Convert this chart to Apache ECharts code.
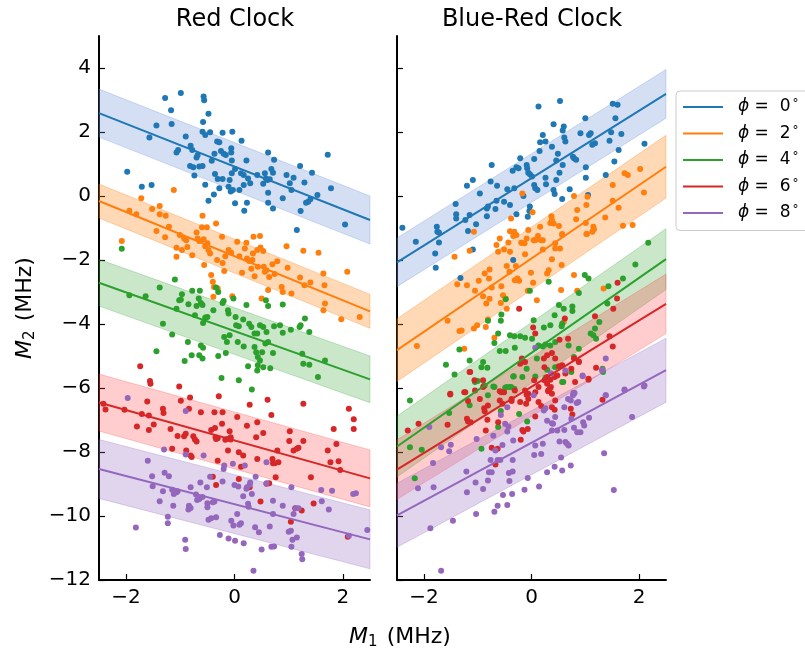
<!DOCTYPE html>
<html>
<head>
<meta charset="utf-8">
<script src="https://cdn.jsdelivr.net/npm/echarts@6/dist/echarts.min.js"></script>
<style>
  html, body { margin: 0; padding: 0; background: #fff; }
  #chart { width: 805px; height: 653px; }
</style>
</head>
<body>
<div id="chart"></div>
<script>
// phase offsets and colours
var phiLabels = ['0', '2', '4', '6', '8'];
var phiColors = ['#1f77b4', '#ff7f0e', '#2ca02c', '#d62728', '#9467bd'];
var bandColors = ['rgba(100,140,215,0.28)', 'rgba(255,127,14,0.30)', 'rgba(44,160,44,0.25)',
                  'rgba(255,60,60,0.26)', 'rgba(148,103,189,0.28)'];
var xTicks = [-2, 0, 2];
var yTicks = [-12, -10, -8, -6, -4, -2, 0, 2, 4];

// Red Clock panel
var red0 = [[-1.98,0.76],[-1.71,0.29],[-1.53,0.34],[-1.57,1.83],[-1.44,2.20],[-1.28,3.06],[-1.17,2.68],[-1.16,2.25],[-0.99,3.22],[-0.90,1.86],[-1.07,1.36],[-1.04,1.44],[-0.81,1.57],[-0.78,1.44],[-0.82,0.94],[-0.76,0.90],[-0.74,0.64],[-0.70,1.20],[-0.68,1.28],[-0.65,0.92],[-0.59,0.94],[-0.59,2.01],[-0.57,3.11],[-0.56,2.99],[-0.48,2.57],[-0.58,2.31],[-0.54,1.91],[-0.45,1.99],[-0.54,0.35],[-0.48,-0.15],[-0.38,0.05],[-0.36,0.69],[-0.37,1.32],[-0.42,1.10],[-0.32,1.70],[-0.28,1.68],[-0.31,0.53],[-0.28,0.24],[-0.22,0.53],[-0.25,1.41],[-0.20,1.32],[-0.16,1.28],[-0.22,1.98],[-0.06,1.49],[-0.06,1.36],[-0.04,2.01],[-0.05,1.11],[-0.09,0.50],[-0.11,0.29],[-0.07,0.14],[-0.03,0.19],[-0.05,0.71],[0.01,0.84],[0.01,-0.23],[0.09,0.19],[0.13,1.73],[0.17,0.34],[0.18,-0.46],[0.22,1.11],[0.23,-0.21],[0.12,0.71],[0.17,0.66],[0.25,0.55],[0.29,0.40],[0.42,0.66],[0.53,0.38],[0.56,0.71],[0.62,1.36],[0.61,0.50],[0.58,0.55],[0.65,0.52],[0.68,0.84],[0.73,1.13],[0.71,0.73],[0.62,0.10],[0.62,-0.21],[0.71,-0.39],[0.89,-0.07],[0.96,0.66],[1.02,0.40],[1.05,0.19],[1.09,0.57],[1.15,-1.06],[1.21,0.94],[1.22,-0.47],[1.29,0.42],[1.32,-0.21],[1.36,-0.18],[1.43,0.73],[1.40,-0.10],[1.53,0.03],[1.72,1.29],[1.78,0.24],[2.04,-0.89]];
var red2 = [[-2.08,-1.41],[-1.72,-0.07],[-1.12,0.19],[-1.94,-0.46],[-1.81,-0.57],[-1.52,-0.41],[-1.38,-0.31],[-1.38,-0.57],[-1.27,-0.62],[-1.44,-1.09],[-1.28,-1.29],[-1.21,-0.96],[-1.07,-1.62],[-1.07,-1.90],[-1.01,-1.22],[-0.97,-1.69],[-0.93,-1.33],[-0.89,-1.38],[-0.87,-1.59],[-0.78,-1.85],[-0.70,-1.14],[-0.68,-1.33],[-0.65,-1.41],[-0.59,-0.62],[-0.60,-0.98],[-0.57,-1.35],[-0.56,-2.16],[-0.54,-1.57],[-0.51,-0.98],[-0.50,-1.48],[-0.48,-1.69],[-0.45,-1.80],[-0.43,-2.47],[-0.40,-2.68],[-0.38,-2.84],[-0.34,-0.86],[-0.32,-2.00],[-0.31,-2.89],[-0.39,-3.15],[-0.23,-1.27],[-0.22,-2.09],[-0.19,-2.34],[-0.17,-1.88],[-0.11,-1.69],[-0.06,-1.77],[-0.04,-3.13],[0.05,-1.43],[0.09,-1.88],[0.14,-2.40],[0.19,-1.64],[0.22,-1.46],[0.23,-1.95],[0.27,-2.03],[0.31,-2.27],[0.33,-2.00],[0.34,-1.80],[0.35,-1.27],[0.37,-2.51],[0.42,-1.69],[0.43,-2.21],[0.47,-1.25],[0.48,-1.61],[0.53,-1.72],[0.50,-3.20],[0.54,-2.21],[0.56,-2.37],[0.59,-2.32],[0.62,-2.94],[0.64,-2.53],[0.70,-2.13],[0.74,-2.44],[0.79,-2.04],[0.87,-2.84],[0.89,-3.00],[0.96,-1.57],[0.98,-2.24],[1.05,-3.05],[1.21,-2.55],[1.27,-1.71],[1.29,-2.79],[1.40,-2.70],[1.55,-1.77],[1.64,-2.42],[1.66,-2.79],[1.67,-3.36],[1.64,-3.57],[1.97,-3.85],[2.08,-2.37],[2.31,-3.78]];
var red4 = [[-2.08,-1.65],[-1.10,-2.61],[-1.38,-2.86],[-1.94,-3.10],[-1.64,-3.13],[-1.32,-3.99],[-1.15,-4.33],[-1.07,-3.52],[-1.02,-3.26],[-0.97,-3.07],[-0.99,-3.24],[-0.85,-3.38],[-0.78,-2.96],[-0.73,-3.73],[-0.70,-3.44],[-0.66,-3.20],[-0.64,-2.96],[-0.62,-3.34],[-0.59,-3.41],[-0.58,-3.97],[-0.54,-3.80],[-0.50,-3.78],[-0.39,-3.57],[-0.34,-2.86],[-0.30,-3.00],[-0.22,-3.34],[-0.20,-3.28],[-0.12,-3.57],[-0.11,-3.67],[-0.02,-3.20],[0.02,-3.78],[0.03,-4.04],[0.08,-4.07],[0.16,-3.86],[0.22,-3.41],[0.27,-3.99],[0.31,-4.09],[0.37,-4.30],[0.42,-4.30],[0.47,-4.04],[0.53,-4.09],[0.58,-3.26],[0.62,-3.44],[0.59,-4.25],[0.73,-4.07],[0.84,-4.04],[0.89,-3.39],[0.89,-4.27],[1.04,-4.18],[1.20,-4.09],[1.22,-4.04],[1.30,-3.83],[1.38,-4.25],[-0.19,-4.41],[-0.09,-4.35],[-1.44,-4.85],[-0.86,-4.56],[-0.92,-5.16],[-0.79,-4.98],[-0.65,-4.98],[-0.62,-4.67],[-0.58,-4.74],[-0.59,-5.08],[-0.30,-5.00],[-0.16,-4.91],[-0.14,-4.56],[0.06,-4.56],[0.17,-4.70],[0.08,-5.76],[-0.24,-5.69],[0.32,-6.05],[0.25,-5.32],[0.37,-4.72],[0.40,-4.88],[0.43,-5.03],[0.43,-5.29],[0.42,-5.45],[0.47,-5.14],[0.51,-4.88],[0.53,-5.35],[0.57,-4.61],[0.62,-4.56],[0.66,-5.38],[0.71,-4.91],[1.25,-4.93],[1.27,-5.24],[1.38,-5.27],[1.54,-5.66],[1.67,-5.14]];
var red6 = [[-2.42,-6.49],[-2.38,-6.67],[-2.03,-6.68],[-1.74,-5.32],[-1.80,-7.20],[-1.71,-6.81],[-1.61,-6.42],[-1.58,-6.86],[-1.58,-7.31],[-1.56,-5.78],[-1.55,-5.87],[-1.49,-7.14],[-1.32,-6.65],[-1.31,-6.78],[-1.18,-7.28],[-1.15,-7.90],[-1.05,-7.50],[-1.02,-5.95],[-0.99,-6.40],[-0.93,-7.51],[-0.90,-7.43],[-0.89,-7.95],[-0.84,-6.65],[-0.82,-6.30],[-0.81,-8.11],[-0.79,-8.16],[-0.76,-7.51],[-0.73,-7.61],[-0.70,-7.67],[-0.62,-6.76],[-0.43,-7.31],[-0.40,-8.77],[-0.37,-6.76],[-0.36,-7.25],[-0.35,-7.54],[-0.34,-7.59],[-0.31,-8.27],[-0.29,-6.26],[-0.31,-7.57],[-0.34,-9.03],[-0.23,-7.12],[-0.22,-6.76],[-0.17,-7.62],[-0.14,-7.59],[-0.12,-7.95],[-0.09,-7.35],[-0.07,-7.54],[-0.07,-7.61],[0.05,-6.91],[0.08,-8.01],[0.12,-8.46],[0.16,-8.11],[0.08,-8.84],[0.23,-7.18],[0.28,-9.10],[0.28,-6.52],[0.40,-7.54],[0.42,-8.22],[0.42,-7.07],[0.53,-7.41],[0.48,-9.55],[0.59,-8.99],[0.61,-6.37],[0.64,-8.98],[0.68,-6.84],[0.70,-8.22],[0.71,-8.35],[0.74,-8.35],[0.76,-8.79],[0.79,-7.95],[0.81,-8.32],[1.01,-7.66],[1.02,-7.35],[1.04,-10.18],[1.09,-7.95],[1.12,-9.76],[1.15,-7.90],[1.18,-7.87],[1.27,-6.49],[1.27,-7.66],[1.24,-9.83],[1.41,-8.79],[1.46,-9.61],[1.72,-7.95],[1.77,-8.32],[1.83,-7.28],[1.88,-7.75],[1.92,-8.29],[1.95,-8.56],[2.11,-6.65],[2.20,-6.98],[2.20,-7.28],[2.09,-10.65]];
var red8 = [[-1.97,-6.31],[-0.90,-6.72],[-1.60,-8.27],[-1.30,-7.92],[-0.90,-8.08],[-1.52,-8.76],[-1.51,-9.07],[-1.32,-9.23],[-1.38,-9.54],[-1.29,-8.65],[-1.21,-8.76],[-1.15,-9.18],[-1.12,-9.31],[-1.07,-9.26],[-1.05,-9.23],[-1.13,-9.68],[-1.23,-10.02],[-1.23,-10.23],[-1.82,-10.36],[-0.91,-10.74],[-0.90,-11.03],[-0.81,-9.10],[-0.84,-9.68],[-0.85,-9.80],[-0.81,-9.75],[-0.71,-9.33],[-0.69,-9.50],[-0.65,-9.47],[-0.63,-8.95],[-0.57,-8.11],[-0.59,-9.41],[-0.51,-9.10],[-0.50,-9.60],[-0.50,-9.73],[-0.48,-10.12],[-0.43,-10.07],[-0.40,-9.57],[-0.37,-9.55],[-0.45,-8.77],[-0.34,-10.04],[-0.27,-10.59],[-0.20,-8.53],[-0.19,-8.42],[-0.22,-8.92],[-0.11,-10.70],[-0.06,-10.15],[-0.02,-10.30],[-0.03,-8.37],[0.01,-10.77],[0.00,-9.03],[0.05,-9.94],[0.07,-9.08],[0.09,-10.27],[0.12,-10.23],[0.17,-10.85],[0.16,-9.38],[0.19,-8.42],[0.22,-9.15],[0.23,-9.10],[0.25,-9.62],[0.26,-9.71],[0.28,-9.02],[0.32,-9.31],[0.29,-8.95],[0.39,-8.77],[0.38,-10.35],[0.45,-10.51],[0.50,-11.05],[0.59,-8.32],[0.59,-8.98],[0.65,-10.33],[0.68,-10.96],[0.73,-10.95],[0.71,-9.52],[0.71,-9.94],[0.89,-9.68],[1.00,-10.49],[1.04,-10.46],[1.05,-9.10],[1.09,-9.94],[1.07,-10.74],[1.05,-10.96],[1.13,-9.76],[1.15,-10.67],[1.18,-9.76],[1.24,-11.19],[1.25,-11.35],[1.60,-9.19],[1.61,-9.54],[1.74,-9.80],[1.80,-9.21],[2.19,-9.31],[2.24,-9.29],[2.45,-10.44],[2.11,-10.62],[0.35,-11.71]];

// Blue-Red Clock panel
var blueRed0 = [[-2.40,-0.99],[-2.15,-1.43],[-1.76,-0.96],[-1.75,-1.12],[-1.72,-1.14],[-1.72,-1.45],[-1.41,-0.25],[-1.40,-0.57],[-1.40,-0.70],[-1.23,-0.75],[-1.18,-1.09],[-1.20,0.32],[-1.15,-0.59],[-1.09,0.50],[-1.03,-0.88],[-0.96,0.08],[-0.83,-0.63],[-0.83,-0.39],[-0.81,-0.33],[-0.76,0.45],[-0.74,0.97],[-0.67,-0.41],[-0.65,-0.15],[-0.64,0.32],[-0.51,-0.18],[-0.45,0.21],[-0.40,-0.28],[-0.35,0.79],[-0.32,0.24],[-0.28,0.90],[-0.24,0.87],[-0.21,1.18],[-0.28,-0.57],[-0.15,0.00],[-0.09,0.97],[-0.08,0.87],[-0.06,0.73],[-0.03,0.68],[-0.03,-0.33],[-0.04,-0.47],[-0.07,-0.65],[0.01,0.61],[0.05,1.16],[0.05,0.34],[0.07,0.24],[0.11,0.19],[0.15,1.41],[0.13,2.80],[0.16,1.68],[0.21,1.91],[0.26,1.70],[0.26,0.57],[0.27,0.37],[0.38,1.54],[0.41,2.24],[0.41,0.19],[0.43,0.06],[0.46,0.50],[0.46,1.11],[0.49,1.32],[0.52,0.73],[0.53,2.97],[0.57,-0.09],[0.58,2.05],[0.60,2.17],[0.58,0.97],[0.63,1.70],[0.61,1.83],[0.71,0.21],[0.77,1.23],[0.79,1.18],[0.83,1.13],[0.91,1.96],[1.00,2.43],[1.01,0.57],[1.01,0.90],[1.05,0.03],[1.07,1.91],[1.10,1.96],[1.13,1.60],[1.18,1.65],[1.38,0.66],[1.45,1.73],[1.48,1.99],[1.51,2.88],[1.60,2.85],[1.54,1.08],[1.56,2.43],[1.62,1.44],[1.67,1.94],[2.10,1.63],[-1.79,-1.80],[-1.78,-2.24],[-1.32,-2.56],[-1.09,-1.67],[-0.34,-2.00]];
var blueRed2 = [[-1.07,-1.12],[-0.17,0.08],[0.02,-0.51],[-0.38,-0.70],[-0.40,-1.10],[-0.34,-1.25],[-0.32,-1.12],[-0.28,-1.22],[-0.59,-1.33],[-0.65,-1.53],[-0.43,-1.45],[-0.18,-1.46],[-0.13,-1.48],[-0.09,-1.33],[-0.06,-1.06],[0.06,-1.38],[0.10,-1.36],[0.18,-1.38],[0.16,-0.96],[0.37,-0.63],[0.38,-0.75],[0.41,-0.86],[0.35,-0.84],[0.51,-0.94],[0.57,-1.19],[0.44,-1.48],[0.53,-1.64],[0.79,0.00],[0.85,-0.44],[0.83,-0.73],[1.01,-0.84],[1.03,-1.19],[1.04,-0.02],[1.02,-0.28],[1.15,-0.96],[1.16,-1.04],[1.37,-0.67],[1.51,0.34],[1.51,-0.15],[1.62,-0.37],[1.70,-0.93],[1.73,0.71],[1.79,0.66],[1.88,-0.91],[2.02,0.84],[2.09,0.11],[-2.13,-4.69],[-1.56,-3.90],[-1.43,-1.90],[-1.38,-2.76],[-1.34,-4.22],[-1.30,-4.20],[-1.25,-4.77],[-1.20,-2.79],[-1.15,-1.71],[-1.07,-4.14],[-1.05,-2.96],[-1.01,-4.04],[-0.98,-2.65],[-0.87,-2.42],[-0.90,-3.13],[-0.85,-4.09],[-0.84,-3.36],[-0.81,-3.86],[-0.79,-2.58],[-0.78,-2.30],[-0.78,-3.21],[-0.69,-4.43],[-0.74,-2.86],[-0.62,-1.74],[-0.56,-2.82],[-0.57,-3.34],[-0.53,-3.10],[-0.51,-1.67],[-0.48,-3.20],[-0.46,-3.52],[-0.46,-2.19],[-0.41,-2.37],[-0.40,-1.74],[-0.31,-2.63],[-0.29,-2.19],[-0.26,-2.58],[-0.23,-2.65],[-0.19,-1.46],[-0.12,-1.82],[-0.07,-2.96],[-0.01,-2.40],[0.03,-2.71],[0.04,-1.38],[0.10,-3.26],[0.12,-1.25],[0.21,-1.38],[0.21,-1.67],[0.29,-2.42],[0.32,-2.32],[0.38,-1.98],[0.44,-1.64],[0.55,-2.94],[0.56,-2.16],[0.57,-1.22],[0.60,-3.94],[0.79,-2.47],[0.85,-2.96],[1.02,-1.19],[1.13,-1.12],[1.34,-2.89]];
var blueRed4 = [[2.17,-1.46],[1.93,-2.14],[1.70,-2.58],[1.43,-2.82],[0.99,-2.47],[1.06,-2.58],[0.88,-3.03],[0.32,-2.68],[-0.03,-2.96],[-0.48,-3.23],[0.76,-3.45],[0.76,-3.59],[0.60,-3.52],[0.51,-3.41],[0.43,-3.73],[0.04,-3.88],[0.57,-3.99],[0.56,-4.07],[0.23,-4.11],[0.35,-4.04],[-0.56,-3.70],[-0.81,-3.90],[-0.57,-3.90],[1.41,-3.36],[1.26,-3.94],[1.18,-4.14],[1.15,-4.35],[1.20,-4.46],[1.10,-4.30],[1.33,-5.50],[0.88,-4.77],[0.79,-5.03],[0.69,-4.67],[0.44,-4.56],[0.35,-4.67],[0.26,-4.64],[0.21,-4.70],[0.13,-4.67],[0.01,-4.46],[-0.12,-4.43],[-0.21,-4.38],[-0.32,-4.38],[-0.40,-4.35],[-0.62,-4.30],[-0.69,-4.59],[-0.82,-5.37],[-0.90,-5.19],[-0.93,-5.35],[-1.05,-5.81],[-1.15,-5.14],[-1.34,-4.80],[-1.43,-5.58],[-1.59,-5.27],[-0.48,-4.84],[-0.59,-4.84],[-0.31,-4.74],[-0.34,-5.64],[-0.17,-5.66],[-0.09,-5.40],[0.10,-5.08],[0.26,-5.68],[0.29,-5.43],[0.44,-5.35],[0.07,-5.64],[-0.40,-5.97],[-0.46,-5.97],[-0.71,-5.95],[-0.87,-5.92],[0.57,-5.81],[0.74,-5.50],[1.32,-5.40],[-2.26,-6.39],[-2.26,-7.85],[-2.17,-8.82],[-2.04,-7.93],[-1.53,-6.78],[-1.15,-6.54],[-1.00,-5.78],[-0.93,-7.90],[-0.88,-5.92],[-0.81,-6.23],[-0.69,-5.97],[-0.62,-7.22],[-0.57,-6.72],[-0.49,-5.99],[-0.38,-5.97],[-0.33,-5.63],[-0.32,-6.02],[-0.23,-6.81],[-0.08,-7.05],[0.59,-5.81]];
var blueRed6 = [[1.60,-2.71],[1.59,-3.20],[1.52,-3.52],[1.45,-4.38],[1.51,-4.70],[1.18,-3.76],[1.06,-5.71],[0.88,-5.17],[0.79,-5.08],[0.74,-5.40],[0.62,-3.83],[0.57,-5.29],[0.52,-4.49],[0.44,-5.08],[0.43,-5.66],[0.38,-4.91],[0.29,-4.98],[0.24,-5.35],[0.23,-5.08],[0.29,-5.66],[0.03,-4.11],[0.07,-4.30],[-0.12,-5.19],[-0.18,-5.08],[-0.21,-5.24],[-0.23,-3.52],[-0.12,-6.08],[-0.06,-6.34],[0.07,-6.13],[0.13,-5.97],[0.31,-6.08],[0.38,-6.18],[0.48,-5.61],[0.63,-5.55],[0.68,-4.46],[0.81,-5.81],[0.35,-5.74],[-1.15,-5.50],[-1.06,-5.76],[-0.90,-5.97],[-1.25,-6.13],[-1.51,-6.18],[-0.59,-6.10],[-0.51,-6.13],[-0.37,-6.34],[-2.30,-7.33],[-2.10,-7.12],[-1.56,-7.15],[-1.51,-6.20],[-1.23,-6.13],[-1.18,-6.41],[-1.20,-6.96],[-1.18,-7.05],[-1.13,-7.07],[-1.14,-5.50],[-1.05,-6.08],[-0.96,-6.34],[-0.90,-5.76],[-0.88,-6.63],[-0.87,-6.73],[-0.85,-7.33],[-0.82,-6.99],[-0.81,-6.55],[-0.74,-7.87],[-0.67,-8.39],[-0.63,-7.90],[-0.62,-7.07],[-0.59,-6.39],[-0.56,-6.13],[-0.54,-6.49],[-0.37,-6.41],[-0.31,-6.08],[-0.21,-6.44],[-0.20,-7.62],[-0.17,-7.31],[-0.15,-7.36],[-0.10,-6.49],[-0.09,-6.21],[-0.07,-7.28],[-0.06,-6.18],[0.05,-5.76],[0.07,-6.89],[0.13,-6.44],[0.18,-6.56],[0.24,-5.76],[0.29,-5.87],[0.31,-6.10],[0.34,-6.02],[0.36,-5.97],[0.38,-6.60],[0.43,-6.68],[0.44,-6.39],[0.51,-5.32],[0.73,-6.65],[0.76,-6.83],[0.79,-6.16],[0.88,-5.19],[1.06,-5.74],[1.20,-5.37],[1.32,-6.37]];
var blueRed8 = [[0.07,-4.74],[0.36,-5.55],[0.63,-5.45],[0.95,-5.61],[1.32,-5.43],[1.38,-5.08],[1.38,-6.23],[1.73,-6.05],[2.10,-5.92],[0.78,-6.16],[-1.90,-7.22],[-2.11,-9.13],[-1.82,-9.10],[-1.83,-8.34],[-1.68,-7.85],[-1.53,-7.98],[-1.50,-7.77],[-1.46,-10.15],[-1.88,-10.38],[-1.68,-11.71],[-1.21,-8.61],[-1.20,-9.26],[-1.04,-8.95],[-1.02,-7.59],[-0.90,-9.16],[-0.81,-8.89],[-0.79,-8.63],[-0.76,-8.25],[-0.74,-8.63],[-0.69,-9.87],[-0.67,-7.95],[-0.63,-8.25],[-0.63,-9.68],[-0.58,-8.25],[-0.54,-7.78],[-0.53,-9.34],[-0.45,-9.66],[-0.45,-6.60],[-0.43,-7.20],[-0.42,-8.66],[-0.41,-8.91],[-0.36,-9.31],[-0.35,-8.25],[-0.34,-7.64],[-0.35,-8.61],[-0.57,-6.84],[-0.49,-7.12],[-0.45,-7.36],[-0.71,-7.49],[-0.13,-9.18],[-0.07,-8.81],[0.04,-6.23],[0.05,-8.09],[0.07,-7.80],[0.14,-9.08],[0.18,-8.06],[0.21,-7.74],[0.23,-6.70],[0.26,-6.63],[0.29,-8.63],[0.37,-5.55],[0.38,-7.33],[0.40,-7.12],[0.43,-8.46],[0.44,-6.91],[0.48,-7.33],[0.52,-7.67],[0.55,-8.17],[0.57,-8.58],[0.61,-7.31],[0.61,-6.60],[0.63,-7.69],[0.66,-7.74],[0.68,-6.34],[0.69,-7.80],[0.73,-8.42],[0.73,-6.39],[0.74,-6.96],[0.77,-6.23],[0.79,-7.24],[0.80,-6.16],[0.84,-6.47],[0.85,-7.38],[0.87,-6.44],[0.91,-7.38],[0.95,-5.63],[0.96,-7.07],[0.98,-7.17],[1.07,-6.93],[1.31,-5.45],[1.35,-8.04],[1.38,-6.23],[1.53,-9.19],[1.87,-6.91],[2.09,-5.95],[1.73,-6.07],[0.29,-7.02],[0.38,-7.10],[-1.03,-9.94]];

// fitted lines: intercept, slope, half band width
var redIntercept = [0.92, -1.88, -4.22, -7.64, -9.63];
var redSlope = [-0.668, -0.69, -0.604, -0.474, -0.44];
var redBand = [0.75, 0.53, 0.73, 0.89, 0.92];
var blueRedIntercept = [0.56, -1.95, -4.90, -5.96, -7.71];
var blueRedSlope = [1.053, 1.146, 1.171, 1.036, 0.907];
var blueRedBand = [0.76, 0.98, 0.95, 0.93, 1.0];

var redPts = [red0, red2, red4, red6, red8];
var blueRedPts = [blueRed0, blueRed2, blueRed4, blueRed6, blueRed8];
var xEnds = [-2.5, 2.5];
var FONT = 'DejaVu Sans';

function minusFmt(v) { return v < 0 ? '\u2212' + Math.abs(v) : String(v); }

function bandSeries(panel, a, b, h, color) {
  return {
    type: 'custom', xAxisIndex: panel, yAxisIndex: panel, silent: true, z: 1,
    data: [[0, a]],
    renderItem: function (params, api) {
      var pts = [
        [xEnds[0], a + b * xEnds[0] + h], [xEnds[1], a + b * xEnds[1] + h],
        [xEnds[1], a + b * xEnds[1] - h], [xEnds[0], a + b * xEnds[0] - h]
      ].map(function (c) { return api.coord(c); });
      return { type: 'polygon', shape: { points: pts },
               style: { fill: color, stroke: color, lineWidth: 1 } };
    }
  };
}

var series = [];
[[redPts, redIntercept, redSlope, redBand], [blueRedPts, blueRedIntercept, blueRedSlope, blueRedBand]].forEach(function (p, panel) {
  for (var i = 0; i < 5; i++) {
    series.push(bandSeries(panel, p[1][i], p[2][i], p[3][i], bandColors[i]));
  }
  for (var i = 0; i < 5; i++) {
    series.push({
      type: 'scatter', name: 'pts' + panel + i, xAxisIndex: panel, yAxisIndex: panel,
      data: p[0][i], symbolSize: 6, z: 3, itemStyle: { color: phiColors[i], opacity: 1 }
    });
  }
  for (var i = 0; i < 5; i++) {
    var a = p[1][i], b = p[2][i];
    series.push({
      type: 'line', name: phiLabels[i], xAxisIndex: panel, yAxisIndex: panel, z: 4,
      data: xEnds.map(function (x) { return [x, a + b * x]; }),
      showSymbol: false, color: phiColors[i], lineStyle: { width: 2, color: phiColors[i] }
    });
  }
});

function xAxisCfg(idx) {
  return {
    type: 'value', gridIndex: idx, min: -2.5, max: 2.5,
    splitLine: { show: false },
    axisLine: { onZero: false, lineStyle: { color: '#000', width: 2 } },
    axisTick: { inside: true, length: 6, customValues: xTicks, lineStyle: { color: '#000', width: 1.2 } },
    axisLabel: { customValues: xTicks, formatter: minusFmt, color: '#000', fontSize: 20, fontFamily: FONT, margin: 8 }
  };
}
function yAxisCfg(idx, labels) {
  return {
    type: 'value', gridIndex: idx, min: -12, max: 5,
    splitLine: { show: false },
    axisLine: { show: true, onZero: false, lineStyle: { color: '#000', width: 2 } },
    axisTick: { show: true, inside: true, length: 6, customValues: yTicks, lineStyle: { color: '#000', width: 1.2 } },
    axisLabel: { show: labels, customValues: yTicks, formatter: minusFmt, color: '#000', fontSize: 20, fontFamily: FONT, margin: 8 }
  };
}

var chart = echarts.init(document.getElementById('chart'), null, { renderer: 'canvas' });
var option = {
  animation: false,
  backgroundColor: '#fff',
  grid: [
    { left: 99, top: 36, width: 271, height: 544 },
    { left: 397, top: 36, width: 269, height: 544 }
  ],
  xAxis: [xAxisCfg(0), xAxisCfg(1)],
  yAxis: [yAxisCfg(0, true), yAxisCfg(1, false)],
  legend: {
    orient: 'vertical', left: 676, top: 91,
    data: phiLabels, icon: 'rect', itemWidth: 40, itemHeight: 2, itemGap: 9,
    padding: [7, 40, 9, 7],
    borderColor: '#cccccc', borderWidth: 1, borderRadius: 4, backgroundColor: '#fff',
    formatter: function (n) { return '{p|\u03d5} =  {n|' + n + '}{d|\u00b0}'; },
    textStyle: {
      color: '#000', fontFamily: FONT, fontSize: 17, padding: [0, 0, 0, 10],
      rich: {
        p: { fontStyle: 'italic', fontSize: 17, fontFamily: FONT },
        n: { fontSize: 17, fontFamily: FONT },
        d: { fontSize: 12, fontFamily: FONT, verticalAlign: 'top', padding: [0, 0, 6, 2] }
      }
    }
  },
  graphic: [
    { type: 'text', x: 235, y: 20, style: { text: 'Red Clock', fontFamily: FONT, fontSize: 24, fill: '#000', align: 'center', verticalAlign: 'middle' } },
    { type: 'text', x: 532, y: 20, style: { text: 'Blue-Red Clock', fontFamily: FONT, fontSize: 24, fill: '#000', align: 'center', verticalAlign: 'middle' } },
    { type: 'text', x: 400, y: 637, style: {
        text: '{m|M}{s|1} (MHz)', fontFamily: FONT, fontSize: 22, fill: '#000', align: 'center', verticalAlign: 'middle',
        rich: { m: { fontStyle: 'italic', fontSize: 22, fontFamily: FONT }, s: { fontSize: 15, fontFamily: FONT, padding: [10, 2, 0, 0] } } } },
    { type: 'text', x: 25, y: 308, rotation: Math.PI / 2, style: {
        text: '{m|M}{s|2} (MHz)', fontFamily: FONT, fontSize: 22, fill: '#000', align: 'center', verticalAlign: 'middle',
        rich: { m: { fontStyle: 'italic', fontSize: 22, fontFamily: FONT }, s: { fontSize: 15, fontFamily: FONT, padding: [10, 2, 0, 0] } } } }
  ],
  series: series
};
chart.setOption(option);
</script>
</body>
</html>
